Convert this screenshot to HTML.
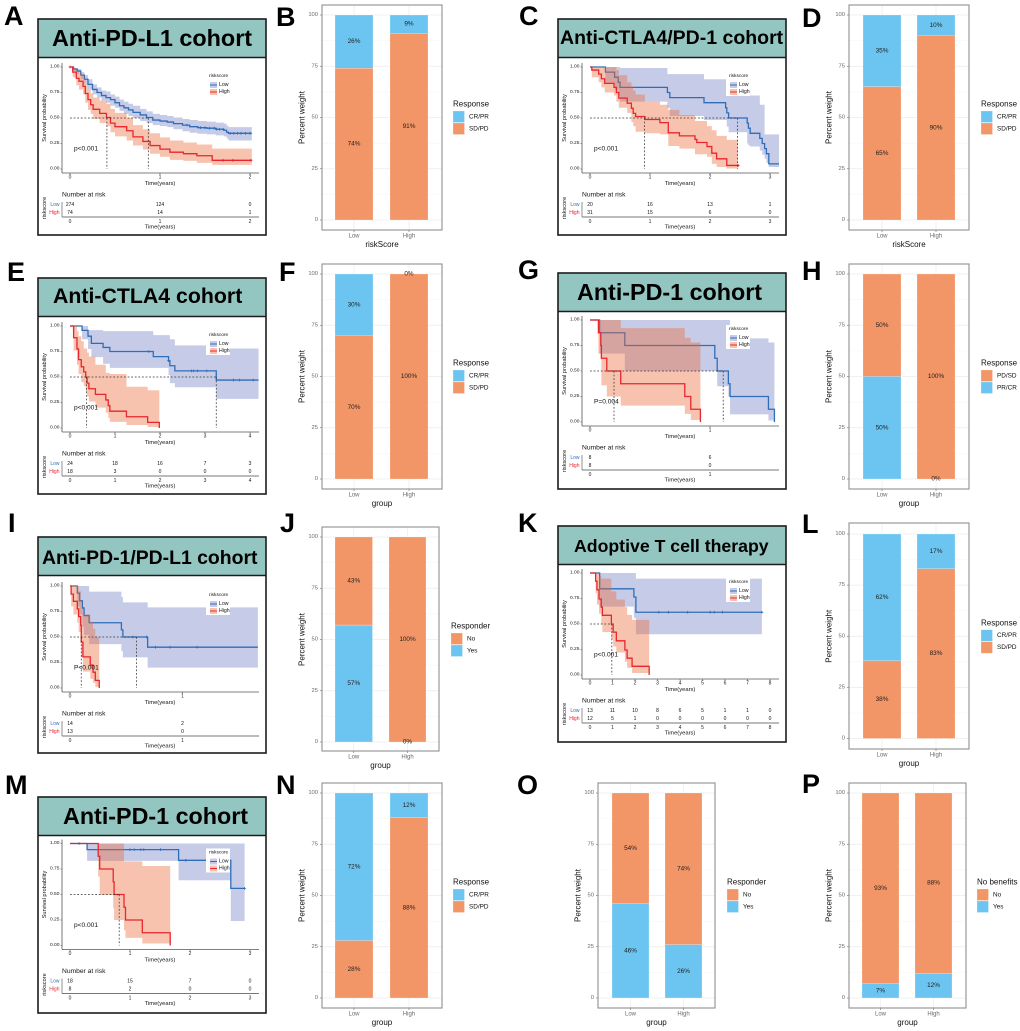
<!DOCTYPE html>
<html lang="en">
<head>
<meta charset="utf-8">
<title>Survival and response by risk score across immunotherapy cohorts</title>
<style>
html,body{margin:0;padding:0;background:#fff;}
svg{display:block;font-family:"Liberation Sans",Arial,sans-serif;filter:blur(.3px);}
</style>
</head>
<body>
<svg id="figure" xmlns="http://www.w3.org/2000/svg" width="1020" height="1031" viewBox="0 0 1020 1031">
<rect x="0" y="0" width="1020" height="1031" fill="#fff"/>
</svg>
<script>
/* ---------- Kaplan-Meier data (time in years, survival probability) ---------- */
const kmA_lowTime=[0,.04,.08,.12,.16,.2,.25,.3,.35,.4,.45,.5,.55,.6,.65,.7,.78,.85,.92,1.0,1.08,1.15,1.25,1.33,1.42,1.52,1.62,1.71,1.74,1.76,2.02];
const kmA_lowSurv=[1,.98,.96,.92,.88,.83,.78,.75,.72,.70,.68,.65,.62,.60,.58,.555,.53,.505,.48,.47,.46,.445,.43,.415,.405,.40,.39,.38,.36,.35,.35];
const kmA_lowUpper=[1,.99,.98,.95,.92,.88,.83,.80,.77,.76,.73,.71,.68,.66,.64,.62,.59,.565,.54,.53,.52,.505,.49,.48,.47,.465,.455,.445,.425,.41,.41];
const kmA_lowLower=[1,.96,.93,.88,.83,.78,.73,.70,.67,.65,.62,.60,.57,.54,.52,.50,.47,.45,.43,.42,.41,.39,.37,.355,.345,.34,.33,.32,.30,.28,.28];
const kmA_lowCensor=[1.3,1.45,1.5,1.55,1.6,1.63,1.66,1.7,1.78,1.82,1.86,1.9,1.95,2.0];
const kmA_highTime=[0,.03,.07,.1,.145,.17,.2,.23,.257,.33,.405,.45,.5,.63,.7,.81,.89,1.0,1.11,1.26,1.41,1.58,2.02];
const kmA_highSurv=[1,.95,.89,.86,.81,.74,.68,.63,.585,.545,.505,.45,.415,.375,.315,.27,.23,.195,.165,.15,.13,.085,.085];
const kmA_highUpper=[1,.99,.96,.93,.89,.83,.78,.74,.70,.67,.64,.59,.55,.50,.43,.39,.35,.31,.28,.26,.24,.20,.185];
const kmA_highLower=[1,.9,.82,.78,.73,.65,.58,.54,.49,.45,.42,.36,.32,.28,.23,.19,.15,.12,.09,.08,.06,.04,.04];
const kmA_highCensor=[0,1.7,1.81,2.01];
const kmA_medians=[.41,.87];
const kmA_ticks=[0,1,2];
const kmA_riskLow=[274,124,0];
const kmA_riskHigh=[74,14,1];

const kmC_lowTime=[0,.257,.41,.47,.5,1.29,1.33,1.9,2.26,2.28,2.31,2.62,2.64,2.67,2.83,2.87,2.91,2.94,2.98,3.15];
const kmC_lowSurv=[1,.95,.90,.85,.80,.75,.70,.65,.60,.55,.50,.45,.40,.35,.30,.25,.20,.15,.05,.05];
const kmC_lowUpper=[1,1,1,1,.99,.93,.93,.88,.88,.88,.88,.78,.78,.72,.63,.63,.34,.34,.34,.34];
const kmC_lowLower=[1,.85,.78,.72,.66,.60,.52,.48,.48,.415,.36,.25,.23,.22,.18,.14,.10,.06,.02,0];
const kmC_lowCensor=[];
const kmC_highTime=[0,.03,.145,.19,.245,.40,.44,.48,.62,.69,.72,.76,.915,1.165,1.305,1.49,1.75,1.78,1.95,2.03,2.11,2.28,2.465];
const kmC_highSurv=[1,.97,.93,.885,.84,.80,.75,.695,.645,.595,.545,.515,.485,.455,.355,.325,.29,.26,.22,.155,.10,.035,.035];
const kmC_highUpper=[1,1,1,1,1,1,.97,.92,.85,.81,.77,.73,.66,.63,.58,.53,.47,.47,.42,.38,.325,.285,.23];
const kmC_highLower=[1,.9,.85,.80,.75,.72,.66,.60,.55,.46,.42,.365,.35,.34,.225,.20,.145,.145,.12,.05,.02,.005,0];
const kmC_highCensor=[2.47];
const kmC_medians=[.91,2.46];
const kmC_ticks=[0,1,2,3];
const kmC_riskLow=[20,16,13,1];
const kmC_riskHigh=[31,15,6,0];

const kmE_lowTime=[0,.268,.40,.475,.735,.885,1.85,2.19,2.22,2.33,3.25,4.19];
const kmE_lowSurv=[1,.957,.90,.83,.79,.75,.70,.66,.61,.56,.47,.47];
const kmE_lowUpper=[1,1,.96,.96,.95,.95,.91,.91,.87,.81,.78,.78];
const kmE_lowLower=[1,.87,.775,.695,.63,.59,.59,.52,.44,.40,.285,.285];
const kmE_lowCensor=[1.75,2.19,2.7,2.75,2.83,3.04,3.63,3.77,4.07];
const kmE_highTime=[0,.08,.155,.19,.25,.305,.35,.38,.42,.565,.795,.85,.885,1.255,1.725,1.985];
const kmE_highSurv=[1,.885,.775,.67,.60,.55,.50,.44,.385,.33,.275,.22,.165,.11,.055,0];
const kmE_highUpper=[1,1,.95,.9,.85,.78,.78,.74,.70,.62,.54,.54,.53,.405,.37,.37];
const kmE_highLower=[1,.76,.62,.53,.45,.41,.36,.31,.26,.20,.15,.10,.06,.03,.01,0];
const kmE_highCensor=[];
const kmE_medians=[.365,3.25];
const kmE_ticks=[0,1,2,3,4];
const kmE_riskLow=[24,18,16,7,3];
const kmE_riskHigh=[18,3,0,0,0];

const kmG_lowTime=[0,.08,.29,1.04,1.06,1.153,1.167,1.487,1.537];
const kmG_lowSurv=[1,.875,.75,.625,.50,.375,.25,.125,0];
const kmG_lowUpper=[1,1,1,1,1,1,.82,.78,.78];
const kmG_lowLower=[1,.67,.50,.50,.35,.25,.075,.015,0];
const kmG_lowCensor=[];
const kmG_highTime=[0,.07,.09,.095,.14,.256,.79,.84,.92];
const kmG_highSurv=[1,.875,.75,.625,.5,.375,.25,.125,0];
const kmG_highUpper=[1,1,1,1,1,.92,.825,.78,.78];
const kmG_highLower=[1,.67,.62,.36,.25,.16,.08,.02,0];
const kmG_highCensor=[];
const kmG_medians=[.2,1.11];
const kmG_ticks=[0,1];
const kmG_riskLow=[8,6];
const kmG_riskHigh=[8,0];

const kmI_lowTime=[0,.065,.086,.11,.125,.17,.457,.47,.69,1.67];
const kmI_lowSurv=[1,.93,.855,.785,.71,.64,.57,.50,.40,.40];
const kmI_lowUpper=[1,1,1,1,1,.945,.895,.84,.79,.79];
const kmI_lowLower=[1,.80,.72,.60,.52,.43,.36,.30,.20,.20];
const kmI_lowCensor=[.56,.68,.76,.89,1.13];
const kmI_highTime=[0,.01,.03,.065,.077,.095,.1,.115,.18,.205,.225,.26];
const kmI_highSurv=[1,.92,.85,.775,.70,.615,.45,.305,.225,.155,.075,0];
const kmI_highUpper=[1,1,1,1,.95,.85,.78,.72,.65,.58,.5,.5];
const kmI_highLower=[1,.80,.72,.64,.55,.44,.30,.16,.09,.05,.01,0];
const kmI_highCensor=[];
const kmI_medians=[.1,.59];
const kmI_ticks=[0,1];
const kmI_riskLow=[14,2];
const kmI_riskHigh=[13,0];

const kmK_lowTime=[0,.43,1.95,2.04,7.64];
const kmK_lowSurv=[1,.845,.765,.615,.615];
const kmK_lowUpper=[1,1,1,.945,.945];
const kmK_lowLower=[1,.67,.56,.40,.40];
const kmK_lowCensor=[3.06,3.48,4.34,5.34,5.52,5.89,7.64];
const kmK_highTime=[0,.25,.31,.4,.5,.55,.95,1.03,1.17,1.55,1.65,1.87,2.63];
const kmK_highSurv=[1,.92,.835,.745,.665,.585,.50,.42,.335,.245,.165,.085,0];
const kmK_highUpper=[1,1,1,.97,.945,.945,.82,.82,.74,.665,.59,.54,.54];
const kmK_highLower=[1,.80,.69,.60,.50,.42,.35,.28,.22,.13,.07,.02,0];
const kmK_highCensor=[];
const kmK_medians=[.97];
const kmK_ticks=[0,1,2,3,4,5,6,7,8];
const kmK_riskLow=[13,11,10,8,6,5,1,1,0];
const kmK_riskHigh=[12,5,1,0,0,0,0,0,0];

const kmM_lowTime=[0,.285,1.81,2.68,2.91];
const kmM_lowSurv=[1,.94,.835,.56,.56];
const kmM_lowUpper=[1,1,1,1,1];
const kmM_lowLower=[1,.83,.64,.24,.24];
const kmM_lowCensor=[.15,1.0,1.07,1.18,1.23,1.51,1.93,2.91];
const kmM_highTime=[0,.47,.495,.72,.735,.9,.925,1.205,1.67];
const kmM_highSurv=[1,.875,.75,.625,.5,.375,.25,.125,0];
const kmM_highUpper=[1,1,1,1,1,.825,.825,.78,.78];
const kmM_highLower=[1,.675,.495,.365,.25,.15,.075,.02,0];
const kmM_highCensor=[];
const kmM_medians=[.82];
const kmM_ticks=[0,1,2,3];
const kmM_riskLow=[18,15,7,0];
const kmM_riskHigh=[8,2,0,0];

const survTicks=[0,.25,.5,.75,1];

/* ---------- Stacked bar data (percent, listed top segment first) ---------- */
const barCategories=['Low','High'];
const barTicks=[0,25,50,75,100];
const barB_segments=['CR/PR','SD/PD'];
const barB_low=[26,74];
const barB_high=[9,91];
const barD_segments=['CR/PR','SD/PD'];
const barD_low=[35,65];
const barD_high=[10,90];
const barF_segments=['CR/PR','SD/PD'];
const barF_low=[30,70];
const barF_high=[0,100];
const barH_segments=['PD/SD','PR/CR'];
const barH_low=[50,50];
const barH_high=[100,0];
const barJ_segments=['No','Yes'];
const barJ_low=[43,57];
const barJ_high=[100,0];
const barL_segments=['CR/PR','SD/PD'];
const barL_low=[62,38];
const barL_high=[17,83];
const barN_segments=['CR/PR','SD/PD'];
const barN_low=[72,28];
const barN_high=[12,88];
const barO_segments=['No','Yes'];
const barO_low=[54,46];
const barO_high=[74,26];
const barP_segments=['No','Yes'];
const barP_low=[93,7];
const barP_high=[88,12];

/* ---------- Layout (kept apart from the data) ---------- */
const kmLayouts=[
 {id:'A',L:38,T:19,dy:0,title:'Anti-PD-L1 cohort',titleX:52,titleY:38,titleSize:23.4,perYear:90,p:'p<0.001',
  lowTime:kmA_lowTime,lowSurv:kmA_lowSurv,lowUpper:kmA_lowUpper,lowLower:kmA_lowLower,lowCensor:kmA_lowCensor,
  highTime:kmA_highTime,highSurv:kmA_highSurv,highUpper:kmA_highUpper,highLower:kmA_highLower,highCensor:kmA_highCensor,
  medians:kmA_medians,ticks:kmA_ticks,riskLow:kmA_riskLow,riskHigh:kmA_riskHigh},
 {id:'C',L:558,T:19,dy:0,title:'Anti-CTLA4/PD-1 cohort',titleX:560,titleY:38,titleSize:19.5,perYear:60,p:'p<0.001',
  lowTime:kmC_lowTime,lowSurv:kmC_lowSurv,lowUpper:kmC_lowUpper,lowLower:kmC_lowLower,lowCensor:kmC_lowCensor,
  highTime:kmC_highTime,highSurv:kmC_highSurv,highUpper:kmC_highUpper,highLower:kmC_highLower,highCensor:kmC_highCensor,
  medians:kmC_medians,ticks:kmC_ticks,riskLow:kmC_riskLow,riskHigh:kmC_riskHigh},
 {id:'E',L:38,T:278,dy:0,title:'Anti-CTLA4 cohort',titleX:53,titleY:296,titleSize:21.3,perYear:45,p:'p<0.001',
  lowTime:kmE_lowTime,lowSurv:kmE_lowSurv,lowUpper:kmE_lowUpper,lowLower:kmE_lowLower,lowCensor:kmE_lowCensor,
  highTime:kmE_highTime,highSurv:kmE_highSurv,highUpper:kmE_highUpper,highLower:kmE_highLower,highCensor:kmE_highCensor,
  medians:kmE_medians,ticks:kmE_ticks,riskLow:kmE_riskLow,riskHigh:kmE_riskHigh},
 {id:'G',L:558,T:273,dy:-1,title:'Anti-PD-1 cohort',titleX:577,titleY:292,titleSize:23.3,perYear:120,p:'P=0.004',
  lowTime:kmG_lowTime,lowSurv:kmG_lowSurv,lowUpper:kmG_lowUpper,lowLower:kmG_lowLower,lowCensor:kmG_lowCensor,
  highTime:kmG_highTime,highSurv:kmG_highSurv,highUpper:kmG_highUpper,highLower:kmG_highLower,highCensor:kmG_highCensor,
  medians:kmG_medians,ticks:kmG_ticks,riskLow:kmG_riskLow,riskHigh:kmG_riskHigh},
 {id:'I',L:38,T:537,dy:1,title:'Anti-PD-1/PD-L1 cohort',titleX:42,titleY:558,titleSize:19.4,perYear:112.5,p:'P<0.001',
  lowTime:kmI_lowTime,lowSurv:kmI_lowSurv,lowUpper:kmI_lowUpper,lowLower:kmI_lowLower,lowCensor:kmI_lowCensor,
  highTime:kmI_highTime,highSurv:kmI_highSurv,highUpper:kmI_highUpper,highLower:kmI_highLower,highCensor:kmI_highCensor,
  medians:kmI_medians,ticks:kmI_ticks,riskLow:kmI_riskLow,riskHigh:kmI_riskHigh},
 {id:'K',L:558,T:526,dy:-1,title:'Adoptive T cell therapy',titleX:574,titleY:546,titleSize:17.7,perYear:22.5,p:'p<0.001',
  lowTime:kmK_lowTime,lowSurv:kmK_lowSurv,lowUpper:kmK_lowUpper,lowLower:kmK_lowLower,lowCensor:kmK_lowCensor,
  highTime:kmK_highTime,highSurv:kmK_highSurv,highUpper:kmK_highUpper,highLower:kmK_highLower,highCensor:kmK_highCensor,
  medians:kmK_medians,ticks:kmK_ticks,riskLow:kmK_riskLow,riskHigh:kmK_riskHigh},
 {id:'M',L:38,T:797,dy:-1.5,title:'Anti-PD-1 cohort',titleX:63,titleY:816,titleSize:23.3,perYear:60,p:'p<0.001',
  lowTime:kmM_lowTime,lowSurv:kmM_lowSurv,lowUpper:kmM_lowUpper,lowLower:kmM_lowLower,lowCensor:kmM_lowCensor,
  highTime:kmM_highTime,highSurv:kmM_highSurv,highUpper:kmM_highUpper,highLower:kmM_highLower,highCensor:kmM_highCensor,
  medians:kmM_medians,ticks:kmM_ticks,riskLow:kmM_riskLow,riskHigh:kmM_riskHigh}
];
const barLayouts=[
 {id:'B',left:322,right:442,top:5,bottom:230,y100:15,y0:220,b1:[335,373],b2:[390,428],legendX:453,legendTitle:'Response',xTitle:'riskScore',segments:barB_segments,low:barB_low,high:barB_high},
 {id:'D',left:849,right:969,top:5,bottom:230,y100:15,y0:220,b1:[863,901],b2:[917,955],legendX:981,legendTitle:'Response',xTitle:'riskScore',segments:barD_segments,low:barD_low,high:barD_high},
 {id:'F',left:322,right:442,top:264,bottom:489,y100:274,y0:479,b1:[335,373],b2:[390,428],legendX:453,legendTitle:'Response',xTitle:'group',segments:barF_segments,low:barF_low,high:barF_high},
 {id:'H',left:849,right:969,top:264,bottom:489,y100:274,y0:479,b1:[863,901],b2:[917,955],legendX:981,legendTitle:'Response',xTitle:'group',segments:barH_segments,low:barH_low,high:barH_high},
 {id:'J',left:322,right:439,top:527,bottom:751,y100:537,y0:742,b1:[335,372.5],b2:[389,426],legendX:451,legendTitle:'Responder',xTitle:'group',segments:barJ_segments,low:barJ_low,high:barJ_high},
 {id:'L',left:849,right:969,top:523,bottom:749,y100:534,y0:738.5,b1:[863,901],b2:[917,955],legendX:981,legendTitle:'Response',xTitle:'group',segments:barL_segments,low:barL_low,high:barL_high},
 {id:'N',left:322,right:442,top:783,bottom:1008,y100:793,y0:998,b1:[335,373],b2:[390,428],legendX:453,legendTitle:'Response',xTitle:'group',segments:barN_segments,low:barN_low,high:barN_high},
 {id:'O',left:598,right:715,top:783,bottom:1008,y100:793,y0:998,b1:[612,649],b2:[665,702],legendX:727,legendTitle:'Responder',xTitle:'group',segments:barO_segments,low:barO_low,high:barO_high},
 {id:'P',left:849,right:966,top:783,bottom:1008,y100:793,y0:998,b1:[862,899],b2:[915,952],legendX:977,legendTitle:'No benefits',xTitle:'group',segments:barP_segments,low:barP_low,high:barP_high}
];
const panelLetterPositions=[
 ['A',4,25],['B',276,26],['C',519,25],['D',802,27],['E',7,281],['F',279,281],['G',518,279],['H',802,280],
 ['I',8,532],['J',280,532],['K',518,532],['L',802,533],['M',5,794],['N',276,794],['O',517,794],['P',802,793]
];

/* ---------- Helpers ---------- */
const NS='http://www.w3.org/2000/svg';
const root=document.getElementById('figure');
const BLUE_BAR='#6cc5f1', ORANGE_BAR='#f39667';
const BLUE_SEGMENTS=['CR/PR','PR/CR','Yes'];
function add(parent,tag,attrs){
  const n=document.createElementNS(NS,tag);
  for(const k in attrs){n.setAttribute(k,attrs[k]);}
  parent.appendChild(n);
  return n;
}
function label(parent,x,y,str,size,fill,anchor,weight,rotate){
  const attrs={x:x,y:y,'font-size':size,fill:fill||'#111','text-anchor':anchor||'start','dominant-baseline':'central'};
  if(weight){attrs['font-weight']=weight;}
  if(rotate){attrs.transform='rotate('+rotate+' '+x+' '+y+')';}
  const n=add(parent,'text',attrs);
  n.textContent=str;
  return n;
}
function stepPath(xs,ys){
  let d='M'+xs[0]+' '+ys[0];
  for(let i=1;i<xs.length;i++){d+=' L'+xs[i]+' '+ys[i-1]+' L'+xs[i]+' '+ys[i];}
  return d;
}
function bandPath(xs,upper,lower){
  let d=stepPath(xs,upper);
  for(let i=xs.length-1;i>=0;i--){
    d+=' L'+xs[i]+' '+lower[i];
    if(i>0){d+=' L'+xs[i]+' '+lower[i-1];}
  }
  return d+' Z';
}
function survAt(times,surv,t){
  let s=surv[0];
  for(let i=0;i<times.length;i++){if(times[i]<=t){s=surv[i];}}
  return s;
}

/* ---------- Panel letters ---------- */
panelLetterPositions.forEach(function(p){
  const el=label(root,p[1],p[2],p[0],27,'#000','start','bold');
  el.setAttribute('dominant-baseline','alphabetic');
  
  
});

/* ---------- Kaplan-Meier panels ---------- */
function drawSeries(g,p,key,xOf,yOf,lineColor,bandColor){
  const times=p[key+'Time'], surv=p[key+'Surv'], up=p[key+'Upper'], lo=p[key+'Lower'], cens=p[key+'Censor'];
  const xs=times.map(xOf);
  const band=add(g,'path',{d:bandPath(xs,up.map(yOf),lo.map(yOf)),fill:bandColor,stroke:'none'});
  
  
  const line=add(g,'path',{d:stepPath(xs,surv.map(yOf)),fill:'none',stroke:lineColor,'stroke-width':1.3});
  
  
  cens.forEach(function(t){
    const cx=xOf(t), cy=yOf(survAt(times,surv,t));
    const mark=add(g,'path',{d:'M'+(cx-1.4)+' '+cy+' H'+(cx+1.4)+' M'+cx+' '+(cy-1.4)+' V'+(cy+1.4),stroke:lineColor,'stroke-width':.8,fill:'none'});
    
    
  });
}
kmLayouts.forEach(function(p){
  const L=p.L,FT=p.T,W=228,H=216;
  const T=FT+p.dy;
  const yTop=T+48,yBottom=T+150;
  const xOf=function(t){return +(L+32+t*p.perYear).toFixed(2);};
  const yOf=function(s){return +(yBottom-s*(yBottom-yTop)).toFixed(2);};
  const g=add(root,'g',{});
  
  

  const titleBg=add(g,'rect',{x:L,y:FT,width:W,height:38.5,fill:'#93c5c1'});
  
  
  const titleText=label(g,p.titleX,p.titleY,p.title,p.titleSize,'#000','start','bold');
  
  

  const clipped=add(g,'g',{});
  
  
  drawSeries(clipped,p,'low',xOf,yOf,'#2f6db8','rgba(72,90,178,.31)');
  drawSeries(clipped,p,'high',xOf,yOf,'#e9252f','rgba(236,104,56,.4)');

  const medMax=Math.max.apply(null,p.medians);
  const hLine=add(g,'line',{x1:xOf(0),x2:xOf(medMax),y1:yOf(.5),y2:yOf(.5),stroke:'#333','stroke-width':.75,'stroke-dasharray':'1.8 1.8'});
  
  
  p.medians.forEach(function(m){
    const v=add(g,'line',{x1:xOf(m),x2:xOf(m),y1:yOf(.5),y2:yOf(0),stroke:'#333','stroke-width':.75,'stroke-dasharray':'1.8 1.8'});
    
    
  });

  /* axes */
  const axisY=add(g,'line',{x1:L+24,x2:L+24,y1:T+44,y2:T+154,stroke:'#555','stroke-width':.8});
  
  
  const axisX=add(g,'line',{x1:L+24,x2:L+221,y1:T+154,y2:T+154,stroke:'#555','stroke-width':.8});
  
  
  survTicks.forEach(function(s){
    const tk=add(g,'line',{x1:L+22.5,x2:L+24,y1:yOf(s),y2:yOf(s),stroke:'#555','stroke-width':.6});
    
    
    const tl=label(g,L+21.5,yOf(s),s.toFixed(2),4.9,'#222','end');
    
    
  });
  p.ticks.forEach(function(t){
    const tk=add(g,'line',{x1:xOf(t),x2:xOf(t),y1:T+154,y2:T+155.5,stroke:'#555','stroke-width':.6});
    
    
    const tl=label(g,xOf(t),T+158.5,String(t),5,'#222','middle');
    
    
  });
  const yTitle=label(g,L+7,T+99,'Survival probability',5.7,'#111','middle',null,-90);
  
  
  const xTitle=label(g,L+122,T+165,'Time(years)',5.8,'#111','middle');
  
  
  const pText=label(g,L+36,T+130,p.p,6.6,'#111','start');
  
  

  /* legend */
  const lg=add(g,'rect',{x:L+168,y:T+53,width:24,height:24,fill:'#fff'});
  
  
  const lgTitle=label(g,L+171,T+57.5,'riskscore',4.8,'#111','start');
  
  
  [['Low','#2f6db8','rgba(72,90,178,.31)',T+66],['High','#e9252f','rgba(236,104,56,.4)',T+73]].forEach(function(e){
    const sw=add(g,'rect',{x:L+172,y:e[3]-3,width:7,height:6,fill:e[2]});
    
    
    const ln=add(g,'line',{x1:L+172,x2:L+179,y1:e[3],y2:e[3],stroke:e[1],'stroke-width':1});
    
    
    const tx=label(g,L+181,e[3],e[0],5.2,'#111','start');
    
    
  });

  /* risk table */
  const nTitle=label(g,L+24,T+176,'Number at risk',6.7,'#111','start');
  
  
  const rTitle=label(g,L+7,T+189,'riskscore',5.6,'#111','middle',null,-90);
  
  
  const rAxisY=add(g,'line',{x1:L+24,x2:L+24,y1:T+183,y2:T+198,stroke:'#777','stroke-width':.8});
  
  
  const rAxisX=add(g,'line',{x1:L+24,x2:L+221,y1:T+198,y2:T+198,stroke:'#777','stroke-width':1});
  
  
  const rowLow=label(g,L+21.5,T+186,'Low',5,'#2f6db8','end');
  
  
  const rowHigh=label(g,L+21.5,T+194,'High',5,'#e9252f','end');
  
  
  p.ticks.forEach(function(t,i){
    const a=label(g,xOf(t),T+186,String(p.riskLow[i]),5,'#111','middle');
    
    
    const b=label(g,xOf(t),T+194,String(p.riskHigh[i]),5,'#111','middle');
    
    
    const c=label(g,xOf(t),T+203,String(t),5,'#222','middle');
    
    
  });
  const rX=label(g,L+122,T+208.5,'Time(years)',5.8,'#111','middle');
  
  

  /* frame */
  const rule=add(g,'line',{x1:L,x2:L+W,y1:FT+38.5,y2:FT+38.5,stroke:'#1c1c1c','stroke-width':1.4});
  
  
  const frame=add(g,'rect',{x:L,y:FT,width:W,height:H,fill:'none',stroke:'#1c1c1c','stroke-width':1.6});
  
  
});

/* ---------- Stacked bar panels ---------- */
barLayouts.forEach(function(p){
  const yOf=function(v){return p.y0-v*(p.y0-p.y100)/100;};
  const g=add(root,'g',{});
  
  
  const midY=(p.y0+p.y100)/2, midX=(p.left+p.right)/2;

  /* grid */
  barTicks.forEach(function(v){
    const gl=add(g,'line',{x1:p.left,x2:p.right,y1:yOf(v),y2:yOf(v),stroke:'#ececec','stroke-width':.7});
    
    
  });
  barTicks.slice(1).forEach(function(v){
    const gm=add(g,'line',{x1:p.left,x2:p.right,y1:yOf(v-12.5),y2:yOf(v-12.5),stroke:'#f4f4f4','stroke-width':.5});
    
    
  });
  [p.b1,p.b2].forEach(function(b){
    const gv=add(g,'line',{x1:(b[0]+b[1])/2,x2:(b[0]+b[1])/2,y1:p.top,y2:p.bottom,stroke:'#ececec','stroke-width':.7});
    
    
  });

  /* bars */
  barCategories.forEach(function(cat,ci){
    const vals=ci===0?p.low:p.high;
    const b=ci===0?p.b1:p.b2;
    let cum=100;
    vals.forEach(function(v,si){
      const seg=p.segments[si];
      const color=BLUE_SEGMENTS.indexOf(seg)>=0?BLUE_BAR:ORANGE_BAR;
      const yT=yOf(cum), yB=yOf(cum-v);
      const rect=add(g,'rect',{x:b[0],y:yT,width:b[1]-b[0],height:Math.max(yB-yT,0),fill:color,stroke:v>0?'rgba(255,255,255,.35)':'none','stroke-width':.6});
      
      
      cum-=v;
    });
  });
  barCategories.forEach(function(cat,ci){
    const vals=ci===0?p.low:p.high;
    const b=ci===0?p.b1:p.b2;
    let cum=100;
    vals.forEach(function(v){
      const lab=label(g,(b[0]+b[1])/2,yOf(cum-v/2),v+'%',6.4,'#1c1c1c','middle');
      
      
      cum-=v;
    });
    const tk=add(g,'line',{x1:(b[0]+b[1])/2,x2:(b[0]+b[1])/2,y1:p.bottom,y2:p.bottom+2,stroke:'#666','stroke-width':.6});
    
    
    const tl=label(g,(b[0]+b[1])/2,p.bottom+6.5,cat,6,'#6a6a6a','middle');
    
    
  });

  /* axes and frame */
  barTicks.forEach(function(v){
    const tk=add(g,'line',{x1:p.left-2,x2:p.left,y1:yOf(v),y2:yOf(v),stroke:'#666','stroke-width':.6});
    
    
    const tl=label(g,p.left-4,yOf(v),String(v),5.8,'#6a6a6a','end');
    
    
  });
  const frame=add(g,'rect',{x:p.left,y:p.top,width:p.right-p.left,height:p.bottom-p.top,fill:'none',stroke:'#8f8f8f','stroke-width':1.1});
  
  
  const yTitle=label(g,p.left-20,midY,'Percent weight',8,'#111','middle',null,-90);
  
  
  const xTitle=label(g,midX,p.bottom+14.5,p.xTitle,8,'#111','middle');
  
  

  /* legend */
  const lt=label(g,p.legendX,midY-13.5,p.legendTitle,8,'#111','start');
  
  
  p.segments.forEach(function(seg,i){
    const color=BLUE_SEGMENTS.indexOf(seg)>=0?BLUE_BAR:ORANGE_BAR;
    const sy=midY-6.5+i*12;
    const sw=add(g,'rect',{x:p.legendX,y:sy,width:11.5,height:11.5,fill:color,stroke:'rgba(255,255,255,.4)','stroke-width':.6});
    
    
    const tx=label(g,p.legendX+16,sy+5.8,seg,6.4,'#111','start');
    
    
  });
});
</script>
</body>
</html>
